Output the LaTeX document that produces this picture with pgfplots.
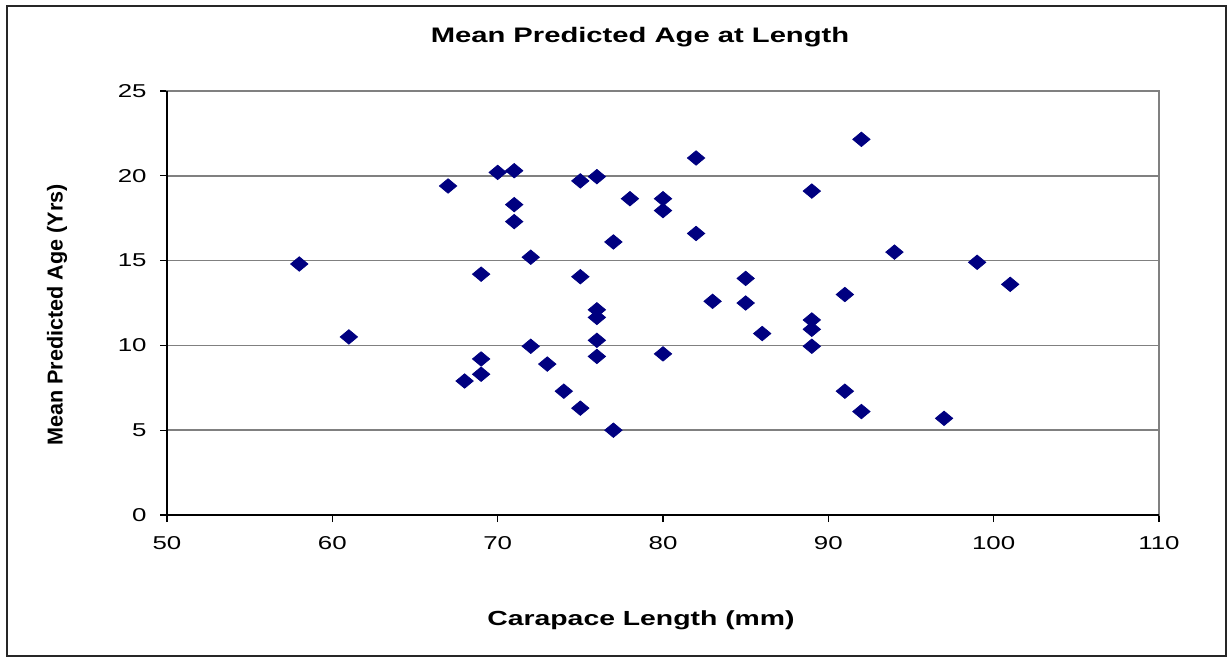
\documentclass[border=0pt]{standalone}
\usepackage{pgfplots}
\pgfplotsset{compat=1.18}
\usepackage{fontspec}
\setmainfont{Liberation Sans}[FakeStretch=1.39]
\newfontfamily\ylabfont{Liberation Sans}
\definecolor{navy}{HTML}{000080}
\definecolor{gridgray}{HTML}{808080}
\begin{document}
\begin{tikzpicture}
\path[use as bounding box] (0pt,0pt) rectangle (615.5pt,-329.5pt);
\draw[line width=1.1pt,black!85] (3.5pt,-3pt) rectangle (613pt,-328pt);
\begin{axis}[
  at={(83.5pt,-257.5pt)}, anchor=south west,
  scale only axis, width=496pt, height=212pt,
  xmin=50, xmax=110, ymin=0, ymax=25,
  xtick={50,60,...,110}, ytick={0,5,...,25},
  axis line style={draw=gridgray, line width=1pt},
  ymajorgrids, major grid style={gridgray, line width=0.75pt},
  tick align=outside, major tick length=3.5pt,
  tick style={black, line width=0.6pt},
  xtick pos=bottom, ytick pos=left,
  /pgf/number format/assume math mode=true,
  ticklabel style={font=\fontsize{9.3pt}{10pt}\selectfont},
  xticklabel style={anchor=north, inner sep=0pt, yshift=-7pt},
  yticklabel style={anchor=east, inner sep=0pt, xshift=-6.5pt},
  clip=false,
]
\addplot[only marks, mark=diamond*, mark size=3.6pt, mark options={xscale=1.6, fill=navy, draw=navy}]
coordinates {
(58,14.8) (61,10.5) (67,19.4) (68,7.9) (69,14.2) (69,9.2) (69,8.3)
(70,20.2) (71,20.3) (71,18.3) (71,17.3) (72,15.2) (72,9.95) (73,8.9)
(74,7.3) (75,19.7) (75,14.05) (75,6.3) (76,19.95) (76,12.1) (76,11.65)
(76,10.3) (76,9.35) (77,16.1) (77,5.0) (78,18.65) (80,18.65) (80,17.95)
(80,9.5) (82,21.05) (82,16.6) (83,12.6) (85,13.95) (85,12.5) (86,10.7)
(89,19.1) (89,11.5) (89,10.95) (89,9.95) (91,13.0) (91,7.3) (92,22.15)
(92,6.1) (94,15.5) (97,5.7) (99,14.9) (101,13.6)
};
\draw[black, line width=1pt] (rel axis cs:0,1) -- (rel axis cs:0,0) -- (rel axis cs:1,0);
\end{axis}
\node[font=\bfseries\fontsize{10.5pt}{12pt}\selectfont] at (320pt,-18.5pt) {Mean Predicted Age at Length};
\node[font=\bfseries\fontsize{10.2pt}{12pt}\selectfont] at (320.5pt,-310pt) {Carapace Length (mm)};
\node[font=\ylabfont\bfseries\fontsize{10.8pt}{12pt}\selectfont, rotate=90] at (28.5pt,-157.5pt) {Mean Predicted Age (Yrs)};
\end{tikzpicture}
\end{document}
